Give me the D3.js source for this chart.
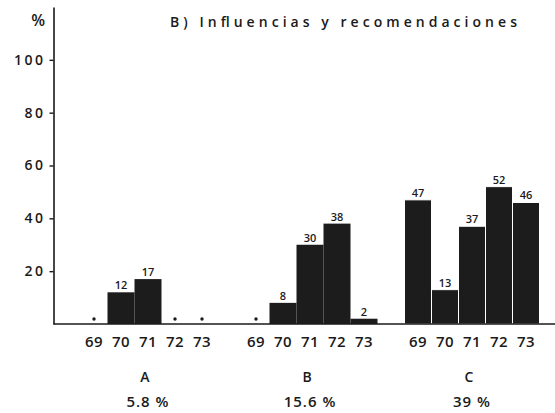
<!DOCTYPE html>
<html><head><meta charset="utf-8">
<script src="https://cdn.jsdelivr.net/npm/d3@7"></script>
<style>
html,body{margin:0;padding:0;background:#fff;}
svg{display:block;}
text{font-family:"Open Sans",sans-serif;fill:#1a1a1a;font-weight:600;}
</style></head>
<body>
<script>
const groups = ["A", "B", "C"];
const groupShares = ["5.8 %", "15.6 %", "39 %"];
const years = ["69", "70", "71", "72", "73"];
const valuesA = [null, 12, 17, null, null];
const valuesB = [null, 8, 30, 38, 2];
const valuesC = [47, 13, 37, 52, 46];
const yTicks = [20, 40, 60, 80, 100];
const title = "B)  Influencias y recomendaciones";

const W = 555, H = 413;
const FONT = "Open Sans, sans-serif";
const svg = d3.select("body").append("svg").attr("width", W).attr("height", H);

const seriesByGroup = [valuesA, valuesB, valuesC];
const data = [];
groups.forEach((g, gi) => years.forEach((yr, i) => data.push({group: g, year: yr, value: seriesByGroup[gi][i]})));

const axisX = 53.5, baseY = 324;
const y = d3.scaleLinear().domain([0, 120]).range([baseY, 7]);
const x0 = d3.scaleBand().domain(groups).range([80.5, 539.5]).paddingInner(1/6).paddingOuter(0);
const x1 = d3.scaleBand().domain(years).range([0, x0.bandwidth()]).padding(0);

// bars
const present = data.filter(d => d.value !== null);
svg.append("g").selectAll("rect").data(present).join("rect")
  .attr("x", d => x0(d.group) + x1(d.year))
  .attr("width", x1.bandwidth())
  .attr("y", d => y(d.value))
  .attr("height", d => y(0) - y(d.value))
  .attr("fill", "#1c1c1c")
  .attr("stroke", d => d.group === "C" ? "#fff" : "none")
  .attr("stroke-width", 1);

// y axis
const yAxis = d3.axisLeft(y).tickValues(yTicks).tickSize(4).tickSizeOuter(0).tickPadding(4);
const ya = svg.append("g").attr("transform", `translate(${axisX},0)`).call(yAxis);
ya.select(".domain").attr("stroke", "#1a1a1a").attr("stroke-width", 1.6);
ya.selectAll(".tick line").attr("stroke", "#1a1a1a").attr("stroke-width", 1.4);
ya.selectAll(".tick text").attr("font-size", 14).attr("letter-spacing", "2.5px").attr("fill", "#1a1a1a")
  .attr("font-family", FONT).attr("font-weight", 600);
svg.append("text").attr("x", 45).attr("y", 26).attr("text-anchor", "end").attr("font-size", 16).text("%");

// baseline
svg.append("line").attr("x1", axisX).attr("x2", W).attr("y1", y(0)).attr("y2", y(0))
  .attr("stroke", "#1a1a1a").attr("stroke-width", 1.6);

// value labels
svg.append("g").selectAll("text").data(present).join("text")
  .attr("x", d => x0(d.group) + x1(d.year) + x1.bandwidth() / 2)
  .attr("y", d => y(d.value) - 3)
  .attr("text-anchor", "middle")
  .attr("font-size", 11).attr("font-weight", "bold")
  .text(d => d.value);

// null dots
svg.append("g").selectAll("circle").data(data.filter(d => d.value === null)).join("circle")
  .attr("cx", d => x0(d.group) + x1(d.year) + x1.bandwidth() / 2)
  .attr("cy", y(0) - 5)
  .attr("r", 1.7)
  .attr("fill", "#1a1a1a");

// year axes per group
groups.forEach((g, gi) => {
  const ax = d3.axisBottom(x1).tickSize(0).tickPadding(12);
  const gg = svg.append("g").attr("transform", `translate(${x0(g)},${y(0)})`).call(ax);
  gg.select(".domain").remove();
  gg.selectAll(".tick text").attr("font-size", 15).attr("letter-spacing", "0.5px").attr("fill", "#1a1a1a")
    .attr("font-family", FONT).attr("font-weight", 500);
  svg.append("text").attr("x", x0(g) + x0.bandwidth() / 2 - 3).attr("y", 382)
    .attr("text-anchor", "middle").attr("font-size", 14).attr("font-weight", 500).text(g);
  svg.append("text").attr("x", x0(g) + x0.bandwidth() / 2).attr("y", 407)
    .attr("text-anchor", "middle").attr("font-size", 15).attr("letter-spacing", "1px")
    .attr("font-weight", 500).text(groupShares[gi]);
});

// title
svg.append("text").attr("x", 170).attr("y", 27).attr("font-size", 14)
  .attr("textLength", 347).attr("lengthAdjust", "spacing").text(title);
</script>
</body></html>
